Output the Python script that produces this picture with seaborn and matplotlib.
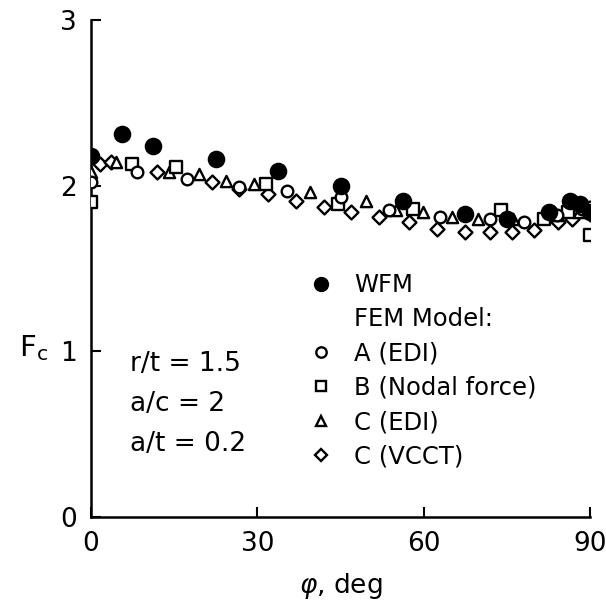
import matplotlib
matplotlib.use("Agg")
import matplotlib.pyplot as plt
from matplotlib.lines import Line2D
import seaborn as sns
import pandas as pd

# ---- data ----
wfm_phi = [0, 5.6, 11.2, 22.5, 33.7, 45, 56.2, 67.5, 75, 82.5, 86.3, 88.2, 90]
wfm_fc  = [2.18, 2.31, 2.24, 2.16, 2.09, 2.00, 1.91, 1.83, 1.80, 1.84, 1.91, 1.89, 1.84]

a_phi = [0, 8.3, 17.3, 26.7, 35.3, 45, 53.7, 62.9, 71.9, 78, 84, 88.5, 90]
a_fc  = [2.02, 2.08, 2.04, 1.99, 1.97, 1.93, 1.85, 1.81, 1.80, 1.78, 1.82, 1.86, 1.87]

b_phi = [0, 7.4, 15.3, 31.5, 44.5, 58, 74, 81.6, 86, 90]
b_fc  = [1.90, 2.13, 2.11, 2.01, 1.89, 1.86, 1.85, 1.80, 1.84, 1.70]

c_edi_phi = [0, 4.5, 14, 19.5, 24.3, 29.4, 39.5, 49.5, 55, 59.8, 65, 69.7, 76, 84, 88]
c_edi_fc  = [2.08, 2.14, 2.08, 2.07, 2.03, 2.01, 1.96, 1.91, 1.85, 1.84, 1.81, 1.80, 1.80, 1.82, 1.84]

c_vcct_phi = [1.6, 3.6, 11.9, 21.8, 26.7, 32, 37, 42, 46.8, 52, 57.3, 62.3, 67.4, 71.9, 75.9, 79.8, 84.1, 86.7, 90]
c_vcct_fc  = [2.13, 2.14, 2.08, 2.02, 1.98, 1.95, 1.91, 1.87, 1.84, 1.81, 1.78, 1.74, 1.72, 1.72, 1.72, 1.73, 1.78, 1.80, 1.83]

legend_labels = ["WFM", "FEM Model:", "A (EDI)", "B (Nodal force)", "C (EDI)", "C (VCCT)"]
x_ticks = [0, 30, 60, 90]
y_ticks = [0, 1, 2, 3]
params_text = "r/t = 1.5\na/c = 2\na/t = 0.2"

sns.set_style("ticks")
plt.rcParams["font.family"] = ["DejaVu Sans"]
plt.rcParams["mathtext.fontset"] = "dejavusans"
plt.rcParams["text.color"] = "black"
plt.rcParams["axes.labelcolor"] = "black"

fig = plt.figure(figsize=(6.06, 6.0), dpi=100)
ax = fig.add_axes([0.150, 0.138, 0.824, 0.829])

def scat(xs, ys, marker, filled, s):
    df = pd.DataFrame({"phi": xs, "fc": ys})
    sns.scatterplot(data=df, x="phi", y="fc", marker=marker, s=s,
                    facecolor="black" if filled else "white",
                    edgecolor="black", linewidth=1.7, ax=ax, zorder=3,
                    legend=False)

scat(c_vcct_phi, c_vcct_fc, "D", False, 50)
scat(c_edi_phi, c_edi_fc, "^", False, 65)
scat(b_phi, b_fc, "s", False, 75)
scat(a_phi, a_fc, "o", False, 70)
scat(wfm_phi, wfm_fc, "o", True, 120)

ax.set_xlim(0, 90)
ax.set_ylim(0, 3)
ax.set_xticks(x_ticks)
ax.set_yticks(y_ticks)
ax.tick_params(direction="in", length=7, width=1.5, labelsize=19, pad=10,
               colors="black")
for sp in ["left", "bottom"]:
    ax.spines[sp].set_linewidth(1.8)
    ax.spines[sp].set_color("black")
sns.despine(ax=ax)
ax.set_xlabel(r"$\varphi$, deg", fontsize=19, labelpad=10)
ax.set_ylabel(r"F$_\mathregular{c}$", fontsize=21, rotation=0)
ax.yaxis.set_label_coords(-0.115, 0.31)

handles = [
    Line2D([], [], ls="none", marker="o", color="black", markersize=10),
    Line2D([], [], ls="none", marker=None),
    Line2D([], [], ls="none", marker="o", mfc="white", mec="black", mew=1.7, markersize=7.5),
    Line2D([], [], ls="none", marker="s", mfc="white", mec="black", mew=1.7, markersize=7.5),
    Line2D([], [], ls="none", marker="^", mfc="white", mec="black", mew=1.7, markersize=7.5),
    Line2D([], [], ls="none", marker="D", mfc="white", mec="black", mew=1.7, markersize=6),
]
ax.legend(handles, legend_labels, loc="upper left", bbox_to_anchor=(0.42, 0.51),
          frameon=False, fontsize=17.5, handlelength=0.9, handletextpad=0.9,
          labelspacing=0.42, borderaxespad=0)

ax.text(0.078, 0.227, params_text, transform=ax.transAxes, fontsize=19,
        va="center", ha="left", linespacing=1.7)

fig.savefig("out.png", dpi=100)
